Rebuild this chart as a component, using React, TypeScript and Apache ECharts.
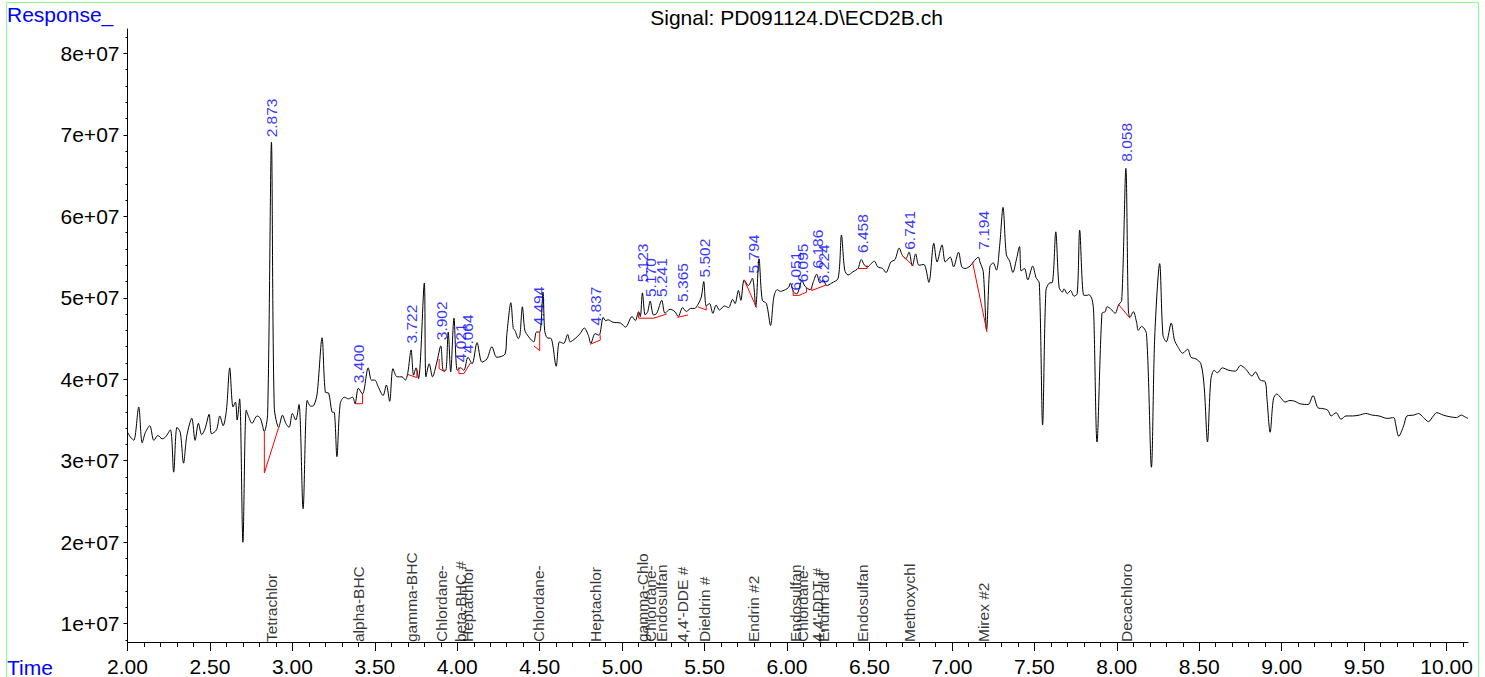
import React, { useEffect, useRef } from "react";
import * as echarts from "echarts";

const FONT = "'Liberation Sans', Arial, Helvetica, sans-serif";

// Retention time (min)
const TIMES = [
  2.0, 2.018, 2.038, 2.068, 2.089, 2.109, 2.135, 2.16, 2.184, 2.21, 2.23, 2.26, 2.28, 2.3, 2.32, 2.34, 2.36, 2.39, 2.41, 2.43,
  2.45, 2.47, 2.495, 2.51, 2.54, 2.56, 2.58, 2.6, 2.62, 2.64, 2.655, 2.665, 2.68, 2.7, 2.72, 2.735, 2.755, 2.786, 2.806, 2.83,
  2.85, 2.873, 2.89, 2.917, 2.94, 2.96, 2.98, 3.0, 3.02, 3.04, 3.065, 3.09, 3.11, 3.13, 3.15, 3.18, 3.2, 3.22, 3.24, 3.255,
  3.27, 3.29, 3.315, 3.34, 3.365, 3.38, 3.4, 3.425, 3.46, 3.48, 3.5, 3.52, 3.55, 3.57, 3.59, 3.61, 3.635, 3.665, 3.685, 3.7,
  3.72, 3.735, 3.75, 3.765, 3.8, 3.81, 3.83, 3.85, 3.875, 3.9, 3.915, 3.93, 3.945, 3.96, 3.98, 4.0, 4.02, 4.04, 4.065, 4.09,
  4.12, 4.15, 4.18, 4.21, 4.24, 4.29, 4.3, 4.325, 4.34, 4.35, 4.37, 4.38, 4.395, 4.41, 4.43, 4.45, 4.465, 4.48, 4.5, 4.52,
  4.53, 4.545, 4.57, 4.6, 4.62, 4.645, 4.67, 4.685, 4.715, 4.745, 4.77, 4.795, 4.81, 4.836, 4.86, 4.885, 4.9, 4.915, 4.945, 4.99,
  5.02, 5.06, 5.08, 5.1, 5.11, 5.123, 5.14, 5.155, 5.17, 5.19, 5.21, 5.24, 5.26, 5.29, 5.32, 5.34, 5.367, 5.39, 5.415, 5.44,
  5.46, 5.48, 5.495, 5.51, 5.53, 5.55, 5.57, 5.59, 5.62, 5.645, 5.67, 5.685, 5.705, 5.72, 5.74, 5.765, 5.79, 5.81, 5.83, 5.85,
  5.875, 5.9, 5.92, 5.94, 5.96, 5.99, 6.01, 6.02, 6.04, 6.06, 6.09, 6.11, 6.14, 6.16, 6.18, 6.2, 6.22, 6.24, 6.27, 6.31,
  6.33, 6.35, 6.37, 6.4, 6.43, 6.45, 6.47, 6.49, 6.51, 6.53, 6.55, 6.58, 6.6, 6.63, 6.655, 6.68, 6.7, 6.72, 6.74, 6.76,
  6.78, 6.8, 6.83, 6.86, 6.89, 6.91, 6.94, 6.96, 6.99, 7.01, 7.04, 7.06, 7.08, 7.11, 7.13, 7.16, 7.17, 7.19, 7.21, 7.23,
  7.25, 7.27, 7.29, 7.31, 7.33, 7.35, 7.37, 7.39, 7.41, 7.42, 7.44, 7.46, 7.49, 7.51, 7.53, 7.55, 7.57, 7.59, 7.61, 7.63,
  7.65, 7.67, 7.68, 7.7, 7.72, 7.74, 7.76, 7.775, 7.8, 7.82, 7.83, 7.85, 7.86, 7.88, 7.91, 7.93, 7.94, 7.96, 7.99, 8.01,
  8.03, 8.055, 8.07, 8.08, 8.1, 8.12, 8.13, 8.15, 8.18, 8.21, 8.23, 8.26, 8.28, 8.3, 8.33, 8.35, 8.37, 8.4, 8.43, 8.45,
  8.48, 8.51, 8.53, 8.55, 8.57, 8.59, 8.61, 8.64, 8.68, 8.72, 8.75, 8.78, 8.82, 8.84, 8.87, 8.9, 8.91, 8.93, 8.95, 8.97,
  9.0, 9.02, 9.05, 9.08, 9.11, 9.16, 9.19, 9.22, 9.25, 9.28, 9.3, 9.33, 9.36, 9.39, 9.43, 9.47, 9.51, 9.55, 9.59, 9.64,
  9.68, 9.69, 9.71, 9.74, 9.76, 9.8, 9.83, 9.86, 9.89, 9.92, 9.94, 9.98, 10.02, 10.06, 10.09, 10.11, 10.13,
];

// Response in millions (x 1e6)
const RESPONSE_M = [
  33.5, 32.9, 32.5, 36.6, 32.2, 33.5, 34.3, 32.5, 33.1, 32.7, 32.9, 33.8, 28.6, 34.1, 33.5, 29.7, 33.1, 35.2, 32.5, 34.6,
  33.2, 33.9, 35.7, 33.3, 33.8, 35.5, 34.3, 36.2, 41.4, 36.6, 37.2, 35.0, 37.6, 20.0, 36.2, 35.4, 34.6, 35.5, 35.2, 33.6,
  35.8, 69.1, 36.6, 34.1, 35.6, 34.6, 34.1, 35.8, 35.0, 36.9, 24.1, 37.4, 36.7, 36.8, 38.2, 45.1, 38.4, 38.3, 36.0, 35.9,
  30.5, 37.0, 37.8, 37.6, 37.8, 37.0, 38.9, 38.2, 41.4, 39.9, 39.9, 39.1, 38.0, 39.3, 37.3, 41.3, 40.3, 40.3, 39.9, 40.8,
  43.6, 40.5, 41.4, 40.1, 51.8, 40.3, 41.9, 40.3, 42.0, 44.1, 41.1, 41.1, 45.8, 40.9, 47.5, 41.1, 41.4, 41.1, 42.7, 41.9,
  44.5, 42.1, 42.5, 44.0, 42.7, 43.1, 45.4, 49.4, 46.2, 46.0, 45.0, 45.4, 48.9, 46.0, 45.3, 44.8, 44.6, 45.8, 45.8, 50.7,
  46.0, 45.1, 45.0, 41.6, 44.6, 44.4, 45.5, 44.6, 45.0, 45.6, 46.3, 45.4, 44.4, 45.6, 45.4, 47.6, 47.2, 47.3, 47.0, 46.9,
  46.4, 47.7, 47.2, 48.3, 47.7, 50.6, 47.9, 48.3, 49.6, 47.9, 48.1, 49.7, 48.1, 48.6, 48.3, 47.7, 48.8, 48.3, 48.7, 48.7,
  49.2, 50.1, 52.0, 49.0, 49.3, 48.1, 49.1, 48.5, 49.0, 48.8, 49.8, 49.3, 50.9, 49.7, 52.2, 51.5, 52.4, 48.9, 54.8, 49.7,
  49.3, 46.6, 50.1, 51.0, 50.8, 51.0, 51.3, 51.8, 50.7, 50.5, 52.1, 51.4, 51.0, 52.0, 52.9, 51.8, 52.2, 51.5, 51.8, 52.4,
  57.7, 53.4, 52.8, 53.2, 53.6, 54.7, 54.0, 53.8, 54.2, 54.5, 53.8, 53.6, 53.1, 54.4, 54.7, 56.1, 55.2, 54.8, 55.6, 53.9,
  55.4, 54.0, 54.1, 51.9, 56.7, 54.4, 56.5, 54.4, 55.0, 53.8, 55.6, 53.8, 53.6, 53.9, 54.4, 55.0, 54.4, 53.2, 46.0, 53.8,
  54.3, 53.4, 56.5, 61.1, 55.3, 54.5, 53.1, 54.6, 56.3, 53.3, 53.6, 52.2, 53.9, 52.5, 51.8, 34.4, 50.9, 51.8, 51.9, 58.1,
  51.3, 50.7, 51.1, 50.5, 50.9, 50.2, 50.5, 58.3, 50.3, 50.3, 50.4, 49.8, 48.1, 32.3, 48.1, 48.3, 48.9, 48.7, 48.1, 49.1,
  49.7, 65.9, 48.5, 47.6, 48.3, 47.0, 46.0, 46.5, 45.6, 29.2, 45.2, 54.2, 45.4, 44.6, 46.9, 44.8, 44.0, 43.2, 43.7, 42.7,
  42.5, 41.9, 39.1, 32.3, 39.9, 41.1, 40.8, 41.4, 41.1, 41.0, 41.7, 41.3, 40.4, 40.9, 39.9, 39.7, 37.8, 33.5, 37.6, 38.2,
  37.6, 37.2, 37.4, 37.3, 37.0, 36.9, 38.0, 36.5, 36.4, 36.2, 35.5, 35.9, 35.1, 35.5, 35.5, 35.6, 35.8, 35.6, 35.5, 35.2,
  35.3, 34.6, 33.0, 34.3, 35.5, 35.6, 35.8, 35.3, 34.8, 35.5, 35.9, 35.6, 35.4, 35.3, 35.6, 35.4, 35.2,
];

// Integrated peaks: retention time and response (millions) where the label starts
const PEAK_RT = [
  2.873, 3.4, 3.722, 3.902, 4.021, 4.064, 4.494, 4.837, 5.123, 5.17, 5.241, 5.365, 5.502, 5.794, 6.051, 6.095, 6.186, 6.224,
  6.458, 6.741, 7.194, 8.058,
];
const PEAK_LABEL_M = [
  69.7, 39.5, 44.4, 44.8, 42.1, 43.2, 46.6, 46.6, 51.9, 50.1, 50.1, 49.5, 52.5, 53.0, 50.9, 51.9, 53.6, 51.8,
  55.5, 55.9, 55.9, 66.7,
];

// Compound names shown along the time axis
const COMPOUND_NAMES = [
  "Tetrachlor", "alpha-BHC", "gamma-BHC", "Chlordane-", "beta-BHC #", "Heptachlor", "Chlordane-", "Heptachlor",
  "gamma-Chlo", "Chlordane-", "Endosulfan", "4,4'-DDE #", "Dieldrin #", "Endrin #2", "Endosulfan", "Chlordane-",
  "4,4'-DDT #", "Endrin ald", "Endosulfan", "Methoxychl", "Mirex #2", "Decachloro",
];
const COMPOUND_RT = [
  2.873, 3.4, 3.722, 3.902, 4.021, 4.064, 4.494, 4.837, 5.123, 5.17, 5.241, 5.365, 5.502, 5.794, 6.051, 6.095,
  6.186, 6.224, 6.458, 6.741, 7.194, 8.058,
];

// Integration baselines (time, response in millions)
const BASELINES: number[][][] = [
  [[2.83, 33.6], [2.83, 28.5], [2.917, 34.1]],
  [[3.38, 37.0], [3.425, 37.0], [3.425, 38.2]],
  [[3.7, 40.6], [3.755, 40.2], [3.755, 41.3]],
  [[3.89, 42.5], [3.89, 41.3], [3.927, 40.9]],
  [[4.01, 41.5], [4.01, 40.7], [4.04, 40.7], [4.08, 42.0]],
  [[4.465, 44.1], [4.5, 43.5], [4.5, 45.8]],
  [[4.806, 44.3], [4.867, 44.8], [4.867, 45.4]],
  [[5.1, 48.2], [5.1, 47.5], [5.19, 47.5], [5.27, 48.0]],
  [[5.335, 47.6], [5.4, 47.9]],
  [[5.46, 48.9], [5.51, 48.5], [5.51, 49.0]],
  [[5.74, 52.2], [5.815, 48.8]],
  [[6.037, 50.9], [6.037, 50.3], [6.074, 50.3], [6.118, 50.7], [6.118, 51.3]],
  [[6.15, 51.4], [6.15, 50.9], [6.24, 51.6]],
  [[6.43, 53.6], [6.485, 53.6], [6.485, 54.0]],
  [[6.7, 55.2], [6.766, 53.9]],
  [[7.125, 54.4], [7.213, 45.8]],
  [[8.01, 49.2], [8.08, 47.5]],
];

const X_MIN = 2.0;
const X_MAX = 10.13;
const Y_MIN = 7.75e6;
const Y_MAX = 8.3e7;
const X_TICKS = [2.0, 2.5, 3.0, 3.5, 4.0, 4.5, 5.0, 5.5, 6.0, 6.5, 7.0, 7.5, 8.0, 8.5, 9.0, 9.5, 10.0];
const Y_TICKS = [1e7, 2e7, 3e7, 4e7, 5e7, 6e7, 7e7, 8e7];

const X_MINOR: number[] = [];
for (let i = 20; i <= 101; i++) X_MINOR.push(i / 10);
const Y_MINOR: number[] = [];
for (let i = 8; i <= 82; i += 2) Y_MINOR.push(i * 1e6);

export default function App() {
  const ref = useRef<HTMLDivElement>(null);

  useEffect(() => {
    if (!ref.current) return;
    const chart = echarts.init(ref.current, undefined, { renderer: "svg" });

    const trace = TIMES.map((t, i) => [t, RESPONSE_M[i] * 1e6]);

    const baselineSeries = BASELINES.map((b) => ({
      type: "line",
      data: b.map(([t, v]) => [t, v * 1e6]),
      symbol: "none",
      silent: true,
      lineStyle: { color: "#ff0000", width: 1 },
      z: 3,
    }));

    const option: any = {
      animation: false,
      textStyle: { fontFamily: FONT },
      grid: { left: 127.5, right: 17, top: 29, bottom: 35, containLabel: false },
      xAxis: [
        {
          type: "value",
          min: X_MIN,
          max: X_MAX,
          interval: 0.5,
          position: "bottom",
          axisLine: { show: true, onZero: false, lineStyle: { color: "#000", width: 1 } },
          axisTick: { show: true, length: 9, customValues: X_TICKS, lineStyle: { color: "#000", width: 1 } },
          axisLabel: {
            show: true,
            customValues: X_TICKS,
            formatter: (v: number) => v.toFixed(2),
            color: "#000",
            fontSize: 21,
            margin: 14,
            fontFamily: FONT,
          },
          splitLine: { show: false },
        },
        {
          type: "value",
          min: X_MIN,
          max: X_MAX,
          position: "bottom",
          offset: 0,
          axisLine: { show: false },
          axisTick: { show: true, length: 5, customValues: X_MINOR, lineStyle: { color: "#000", width: 1 } },
          axisLabel: { show: false },
          splitLine: { show: false },
        },
      ],
      yAxis: [
        {
          type: "value",
          min: Y_MIN,
          max: Y_MAX,
          position: "left",
          axisLine: { show: true, onZero: false, lineStyle: { color: "#000", width: 1 } },
          axisTick: { show: true, length: 4, customValues: Y_TICKS, lineStyle: { color: "#000", width: 1 } },
          axisLabel: {
            show: true,
            customValues: Y_TICKS,
            formatter: (v: number) => `${Math.round(v / 1e7)}e+07`,
            color: "#000",
            fontSize: 21,
            margin: 8,
            fontFamily: FONT,
          },
          splitLine: { show: false },
        },
        {
          type: "value",
          min: Y_MIN,
          max: Y_MAX,
          position: "left",
          offset: 0,
          axisLine: { show: false },
          axisTick: { show: true, length: 2, customValues: Y_MINOR, lineStyle: { color: "#000", width: 1 } },
          axisLabel: { show: false },
          splitLine: { show: false },
        },
      ],
      series: [
        {
          type: "line",
          data: trace,
          symbol: "none",
          silent: true,
          smooth: 0.3,
          lineStyle: { color: "#000", width: 1 },
          z: 2,
        },
        ...baselineSeries,
        {
          type: "scatter",
          data: PEAK_RT.map((t, i) => [t, PEAK_LABEL_M[i] * 1e6]),
          symbolSize: 0,
          silent: true,
          clip: false,
          label: {
            show: true,
            position: [0, 0],
            rotate: 90,
            align: "left",
            verticalAlign: "middle",
            formatter: (p: any) => p.value[0].toFixed(3),
            color: "#0000ff",
            fontSize: 15.5,
            fontFamily: FONT,
          },
          z: 4,
        },
        {
          type: "scatter",
          data: COMPOUND_RT.map((t, i) => ({ value: [t, Y_MIN], name: COMPOUND_NAMES[i] })),
          symbolSize: 0,
          silent: true,
          clip: false,
          label: {
            show: true,
            position: [0, 0],
            rotate: 90,
            align: "left",
            verticalAlign: "middle",
            formatter: "{b}",
            color: "#000",
            fontSize: 15.5,
            fontFamily: FONT,
          },
          z: 4,
        },
      ],
      graphic: [
        {
          type: "rect",
          shape: { x: 6.5, y: 2.5, width: 1472, height: 700 },
          style: { fill: "none", stroke: "#88ff88", lineWidth: 1 },
          silent: true,
        },
        {
          type: "text",
          x: 7,
          y: 14.5,
          style: { text: "Response_", fill: "#0000ff", fontSize: 21, fontFamily: FONT, verticalAlign: "middle", align: "left" },
        },
        {
          type: "text",
          x: 796.5,
          y: 17,
          style: {
            text: "Signal: PD091124.D\\ECD2B.ch",
            fill: "#000",
            fontSize: 21,
            fontFamily: FONT,
            verticalAlign: "middle",
            align: "center",
          },
        },
        {
          type: "text",
          x: 7,
          y: 667,
          style: { text: "Time", fill: "#0000ff", fontSize: 21, fontFamily: FONT, verticalAlign: "middle", align: "left" },
        },
      ],
    };

    chart.setOption(option);
    return () => chart.dispose();
  }, []);

  return (
    <div
      ref={ref}
      style={{ position: "absolute", left: 0, top: 0, width: 1485, height: 677, background: "#fff" }}
    />
  );
}
